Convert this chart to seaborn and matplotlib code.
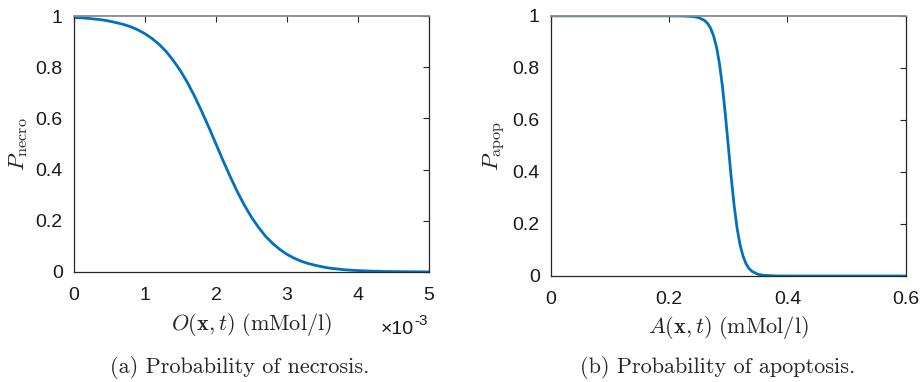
import numpy as np
import pandas as pd
import matplotlib
matplotlib.use('Agg')
import matplotlib.pyplot as plt
import seaborn as sns
from matplotlib.ticker import FuncFormatter

# oxygen concentration (x 1e-3 mMol/l) and necrosis probability
oxygen_e3 = [0.0, 0.1, 0.2, 0.3, 0.4, 0.5, 0.6, 0.7, 0.8, 0.9, 1.0, 1.1, 1.2,
             1.3, 1.4, 1.5, 1.6, 1.7, 1.8, 1.9, 2.0, 2.1, 2.2, 2.3, 2.4, 2.5,
             2.6, 2.7, 2.8, 2.9, 3.0, 3.1, 3.2, 3.3, 3.4, 3.5, 3.6, 3.7, 3.8,
             3.9, 4.0, 4.2, 4.4, 4.6, 4.8, 5.0]
p_necro = [0.994, 0.993, 0.991, 0.988, 0.985, 0.980, 0.974, 0.967, 0.958, 0.946,
           0.931, 0.912, 0.889, 0.861, 0.826, 0.786, 0.739, 0.686, 0.627, 0.565,
           0.500, 0.435, 0.373, 0.314, 0.261, 0.214, 0.174, 0.139, 0.111, 0.088,
           0.069, 0.054, 0.042, 0.033, 0.026, 0.020, 0.015, 0.012, 0.009, 0.007,
           0.0055, 0.0033, 0.002, 0.0012, 0.0007, 0.0004]

# acidity concentration (mMol/l) and apoptosis probability
acid = [0.0, 0.1, 0.2, 0.22, 0.24, 0.25, 0.26, 0.265, 0.27, 0.275, 0.28, 0.285,
        0.29, 0.295, 0.30, 0.305, 0.31, 0.315, 0.32, 0.325, 0.33, 0.335, 0.34,
        0.35, 0.36, 0.38, 0.4, 0.5, 0.6]
p_apop = [1.0, 1.0, 1.0, 0.9997, 0.9975, 0.9933, 0.982, 0.971, 0.953, 0.924,
          0.881, 0.818, 0.731, 0.622, 0.500, 0.378, 0.269, 0.182, 0.119, 0.076,
          0.047, 0.029, 0.018, 0.0067, 0.0025, 0.0003, 0.0, 0.0, 0.0]

necro = pd.DataFrame({'O': np.array(oxygen_e3) * 1e-3, 'P': p_necro})
apop = pd.DataFrame({'A': acid, 'P': p_apop})

sns.set_style('white')
plt.rcParams['font.family'] = ['Liberation Sans', 'DejaVu Sans']
plt.rcParams['mathtext.fontset'] = 'cm'

line_col = '#0072BD'
dark = '#262626'

fig = plt.figure(figsize=(9.21, 3.82), dpi=100)
ax1 = fig.add_axes([0.0803, 0.288, 0.3855, 0.670])
ax2 = fig.add_axes([0.598, 0.2775, 0.3855, 0.681])

sns.lineplot(data=necro, x='O', y='P', ax=ax1, color=line_col, lw=2.0, estimator=None)
sns.lineplot(data=apop, x='A', y='P', ax=ax2, color=line_col, lw=2.0, estimator=None)

fmt = FuncFormatter(lambda v, p: f'{v:g}')
for ax in (ax1, ax2):
    ax.set_ylim(0, 1)
    ax.set_yticks([0, 0.2, 0.4, 0.6, 0.8, 1.0])
    ax.yaxis.set_major_formatter(fmt)
    ax.tick_params(direction='in', top=True, right=True, length=4, width=0.8,
                   color=dark, labelsize=14, labelcolor='#1a1a1a')
    ax.tick_params(axis='y', pad=8)
    ax.tick_params(axis='x', pad=11)
    for s in ('left', 'bottom', 'right'):
        ax.spines[s].set_color(dark)
        ax.spines[s].set_linewidth(0.9)
    ax.spines['top'].set_color('#8a8a8a')
    ax.spines['top'].set_linewidth(1.3)

ax1.set_xlim(0, 0.005)
ax1.set_xticks([0, 0.001, 0.002, 0.003, 0.004, 0.005])
ax1.xaxis.set_major_formatter(FuncFormatter(lambda v, p: f'{v * 1e3:g}'))
ax1.set_xlabel(r'$O(\mathbf{x},t)\ \mathrm{(mMol/l)}$', fontsize=16)
ax1.set_ylabel(r'$P_{\rm necro}$', fontsize=16.5)
ax1.xaxis.set_label_coords(0.5, -0.152)
ax1.yaxis.set_label_coords(-0.125, 0.5)
# scale factor written like the MATLAB exponent label
ax1.text(0.997, -0.19, '-3', transform=ax1.transAxes, ha='right', va='center',
         fontsize=11, color='#1a1a1a')
ax1.annotate('×10', xy=(0.997, -0.226), xycoords='axes fraction', xytext=(-10, 0),
             textcoords='offset points', ha='right', va='center', fontsize=14,
             color='#1a1a1a')

ax2.set_xlim(0, 0.6)
ax2.set_xticks([0, 0.2, 0.4, 0.6])
ax2.xaxis.set_major_formatter(fmt)
ax2.set_xlabel(r'$A(\mathbf{x},t)\ \mathrm{(mMol/l)}$', fontsize=16)
ax2.set_ylabel(r'$P_{\rm apop}$', fontsize=16.5)
ax2.xaxis.set_label_coords(0.5, -0.147)
ax2.yaxis.set_label_coords(-0.121, 0.5)

fig.text(0.2606, 0.039, '(a) Probability of necrosis.', ha='center', va='center',
         family='cmr10', fontsize=16)
fig.text(0.779, 0.039, '(b) Probability of apoptosis.', ha='center', va='center',
         family='cmr10', fontsize=16)

fig.savefig('out.png', dpi=100)
